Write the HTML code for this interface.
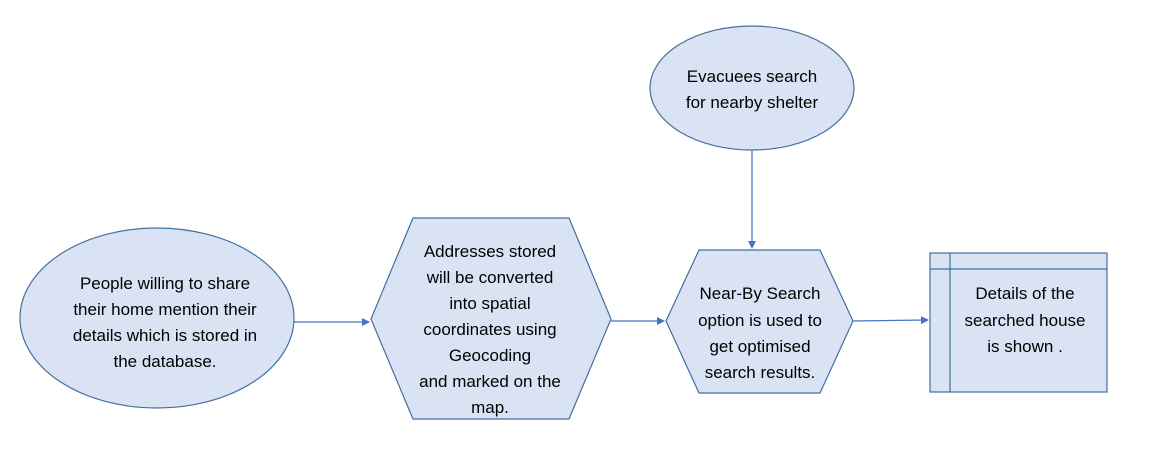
<!DOCTYPE html>
<html><head><style>
body{margin:0;background:#fff}
svg text{font-family:"Liberation Sans",sans-serif;font-size:17px;fill:#000}
</style></head><body>
<svg width="1152" height="471" viewBox="0 0 1152 471" xmlns="http://www.w3.org/2000/svg">
<defs><marker id="a" markerWidth="8" markerHeight="8" refX="7" refY="4" orient="auto" markerUnits="userSpaceOnUse"><path d="M0,0L8,4L0,8z" fill="#4472c4"/></marker></defs>
<g fill="#dae3f3" stroke="#41719c" stroke-width="1.2">
<ellipse cx="157" cy="318" rx="137" ry="90"/>
<polygon points="371,319 413,218 569,218 611,319 569,419 413,419"/>
<polygon points="666,321 699,250 820,250 853,321 820,393 699,393"/>
<ellipse cx="752" cy="88" rx="102" ry="62"/>
<rect x="930" y="253" width="177" height="139"/>
<line x1="930" y1="269" x2="1107" y2="269"/>
<line x1="950" y1="253" x2="950" y2="392"/>
</g>
<g stroke="#4472c4" stroke-width="1.2" fill="none">
<line x1="294" y1="322" x2="369" y2="322" marker-end="url(#a)"/>
<line x1="611" y1="321" x2="664" y2="321" marker-end="url(#a)"/>
<line x1="853" y1="321" x2="928" y2="320" marker-end="url(#a)"/>
<line x1="752" y1="150" x2="752" y2="248" marker-end="url(#a)"/>
</g>
<g text-anchor="middle">
<text x="165" y="289">People willing to share</text>
<text x="165" y="315">their home mention their</text>
<text x="165" y="341">details which is stored in</text>
<text x="165" y="367">the database.</text>
<text x="490" y="257">Addresses stored</text>
<text x="490" y="283">will be converted</text>
<text x="490" y="309">into spatial</text>
<text x="490" y="335">coordinates using</text>
<text x="490" y="361">Geocoding</text>
<text x="490" y="387">and marked on the</text>
<text x="490" y="413">map.</text>
<text x="760" y="299">Near-By Search</text>
<text x="760" y="326">option is used to</text>
<text x="760" y="352">get optimised</text>
<text x="760" y="378">search results.</text>
<text x="752" y="82">Evacuees search</text>
<text x="752" y="108">for nearby shelter</text>
<text x="1025" y="299">Details of the</text>
<text x="1025" y="326">searched house</text>
<text x="1025" y="352">is shown .</text>
</g>
</svg>
</body></html>
